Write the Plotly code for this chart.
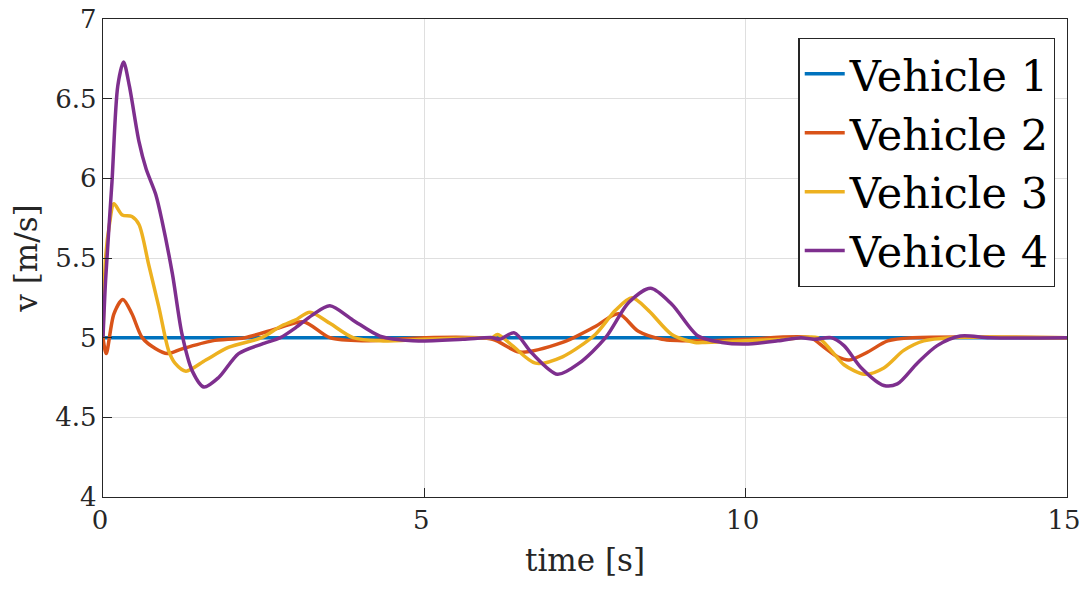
import plotly.graph_objects as go

# vehicle speeds
t_v1 = [0, 15]
v_v1 = [5, 5]

t_v2 = [0, 0.05, 0.17, 0.31, 0.45, 0.61, 0.82, 1.0, 1.23, 1.70, 2.21, 2.73, 3.12,
        3.53, 4.04, 5.0, 6.06, 6.48, 7.15, 7.66, 8.02, 8.33, 8.70, 9.21, 10.0,
        11.0, 11.22, 11.43, 11.61, 11.9, 12.21, 12.6, 15]
v_v2 = [5, 4.90, 5.15, 5.24, 5.15, 5.0, 4.93, 4.90, 4.93, 4.98, 5.00, 5.06, 5.10,
        5.0, 4.98, 5.0, 4.99, 4.91, 4.97, 5.07, 5.15, 5.04, 4.99, 4.98, 4.99,
        5.0, 4.94, 4.88, 4.86, 4.91, 4.98, 5.0, 5.0]

t_v3 = [0, 0.04, 0.10, 0.17, 0.30, 0.45, 0.56, 0.71, 0.87, 1.02, 1.12, 1.29, 1.60,
        1.96, 2.47, 2.76, 2.99, 3.22, 3.53, 3.89, 4.31, 5.0, 5.8, 6.05, 6.14,
        6.37, 6.73, 7.15, 7.66, 7.97, 8.23, 8.49, 8.85, 9.21, 9.37, 9.99, 10.6,
        11.12, 11.33, 11.53, 11.85, 12.15, 12.46, 12.77, 13.2, 15]
v_v3 = [5, 5.5, 5.71, 5.84, 5.77, 5.76, 5.71, 5.46, 5.19, 4.92, 4.84, 4.79, 4.86,
        4.94, 5.00, 5.07, 5.11, 5.16, 5.09, 5.00, 4.98, 4.99, 5.0, 5.0, 5.02,
        4.95, 4.84, 4.88, 5.02, 5.17, 5.25, 5.17, 5.02, 4.97, 4.97, 4.98, 4.99,
        5.0, 4.92, 4.83, 4.77, 4.81, 4.92, 4.98, 5.0, 5.0]

t_v4 = [0, 0.04, 0.14, 0.23, 0.32, 0.41, 0.56, 0.67, 0.82, 0.92, 1.08, 1.23, 1.39,
        1.57, 1.80, 2.11, 2.47, 2.76, 2.99, 3.25, 3.53, 3.89, 4.31, 4.82, 5.6,
        6.06, 6.17, 6.40, 6.68, 7.07, 7.41, 7.82, 8.18, 8.52, 8.85, 9.26, 9.63,
        9.99, 10.5, 10.86, 11.07, 11.33, 11.53, 11.8, 12.15, 12.36, 12.67, 12.98,
        13.34, 13.8, 15]
v_v4 = [5, 5.36, 5.98, 6.58, 6.73, 6.58, 6.23, 6.06, 5.90, 5.73, 5.40, 5.02, 4.79,
        4.69, 4.75, 4.90, 4.96, 5.00, 5.06, 5.14, 5.20, 5.11, 5.01, 4.98, 4.99,
        5.0, 4.99, 5.03, 4.90, 4.77, 4.84, 5.0, 5.22, 5.31, 5.21, 5.01, 4.97,
        4.96, 4.98, 5.0, 4.99, 5.0, 4.95, 4.81, 4.70, 4.71, 4.84, 4.95,
        5.01, 5.0, 5.0]

names = ['Vehicle 1', 'Vehicle 2', 'Vehicle 3', 'Vehicle 4']
colors = ['#0072BD', '#D95319', '#EDB120', '#7E2F8E']
series = [(t_v1, v_v1), (t_v2, v_v2), (t_v3, v_v3), (t_v4, v_v4)]

fig = go.Figure()
for (t, v), name, c in zip(series, names, colors):
    fig.add_trace(go.Scatter(x=t, y=v, mode='lines', name=name,
                             line=dict(color=c, width=3.5, shape='spline', smoothing=0.8)))

fig.update_xaxes(range=[0, 15], tickvals=[0, 5, 10, 15],
                 title_text='time [s]', title_standoff=14, automargin=False,
                 ticklabeloverflow='allow', ticklabelshift=-3,
                 showgrid=True, gridcolor='#dfdfdf', gridwidth=1,
                 showline=True, linecolor='#262626', linewidth=1.3, mirror=True,
                 ticks='inside', ticklen=9, tickcolor='#262626', zeroline=False)
fig.update_yaxes(range=[4, 7], tickvals=[4, 4.5, 5, 5.5, 6, 6.5, 7],
                 ticktext=['4', '4.5', '5', '5.5', '6', '6.5', '7'],
                 title_text='v [m/s]', title_standoff=16, automargin=False,
                 ticklabeloverflow='allow',
                 showgrid=True, gridcolor='#dfdfdf', gridwidth=1,
                 showline=True, linecolor='#262626', linewidth=1.3, mirror=True,
                 ticks='inside', ticklen=9, tickcolor='#262626', zeroline=False)

# the page adds an 8px body margin, so the figure starts at (8, 8) in the window
fig.update_layout(
    width=1072, height=578,
    margin=dict(l=95, r=13, t=11, b=89),
    plot_bgcolor='white', paper_bgcolor='white',
    font_family="DejaVu Serif",
    font_size=26,
    font_color="#262626",
    xaxis_title_font_size=31,
    yaxis_title_font_size=31,
    legend=dict(
        x=0.988, y=0.96, xanchor='right', yanchor='top',
        bgcolor='white', bordercolor='#262626', borderwidth=1.3,
        font=dict(size=43, color='black'),
        tracegroupgap=0, itemwidth=40),
)

fig.write_html("out.html")
